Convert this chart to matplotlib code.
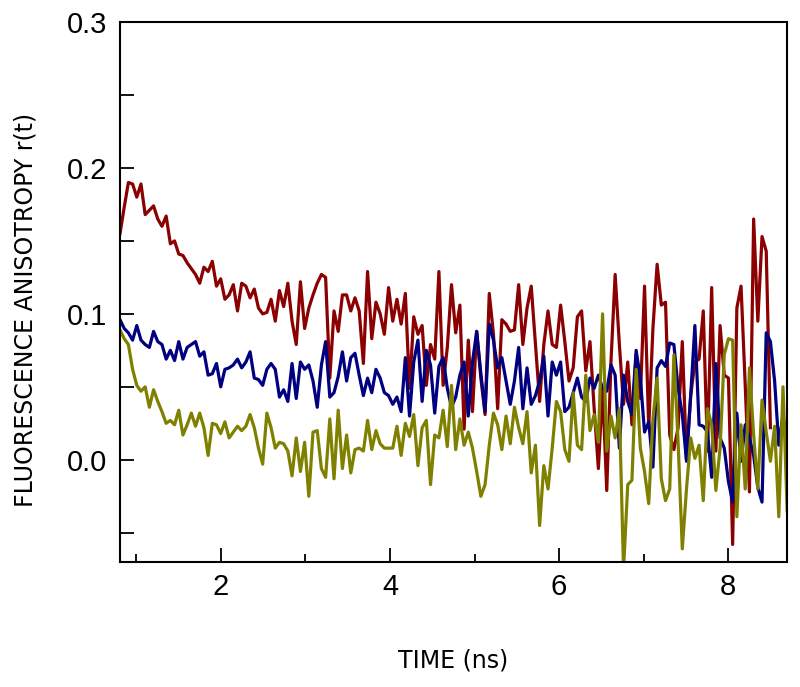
import numpy as np
import matplotlib
matplotlib.use('Agg')
import matplotlib.pyplot as plt
from matplotlib.ticker import MultipleLocator, FormatStrFormatter

# anisotropy decays, one value per channel (~0.05 ns)
red = [0.155, 0.173, 0.190, 0.189, 0.180, 0.189, 0.168, 0.171, 0.174, 0.165, 0.160,
       0.167, 0.148, 0.150, 0.141, 0.140, 0.135, 0.131, 0.127, 0.121, 0.132, 0.129,
       0.136, 0.119, 0.124, 0.110, 0.113, 0.120, 0.102, 0.121, 0.119, 0.111, 0.117,
       0.104, 0.100, 0.101, 0.110, 0.095, 0.116, 0.105, 0.121, 0.095, 0.079, 0.122,
       0.090, 0.104, 0.113, 0.121, 0.127, 0.125, 0.056, 0.102, 0.088, 0.113, 0.113,
       0.102, 0.111, 0.102, 0.066, 0.129, 0.083, 0.108, 0.100, 0.086, 0.118,
       0.095, 0.110, 0.093, 0.114, 0.049, 0.098, 0.086, 0.092, 0.051, 0.079, 0.069,
       0.129, 0.051, 0.077, 0.120, 0.087, 0.106, 0.021, 0.082, 0.033, 0.088, 0.056,
       0.031, 0.114, 0.086, 0.035, 0.096, 0.093, 0.088, 0.089, 0.120, 0.079,
       0.104, 0.119, 0.079, 0.040, 0.079, 0.102, 0.079, 0.077, 0.106, 0.081, 0.054,
       0.063, 0.098, 0.102, 0.061, 0.081, 0.035, -0.006, 0.049, -0.021, 0.067, 0.127,
       0.079, 0.038, 0.067, 0.024, 0.072, 0.042, 0.119, 0.022, 0.090, 0.134,
       0.106, 0.108, 0.017, 0.007, 0.022, 0.081, 0.001, 0.044, 0.067, 0.069, 0.102,
       0.006, 0.118, 0.006, 0.092, 0.058, 0.056, -0.058, 0.104, 0.119, 0.051, -0.022,
       0.165, 0.095, 0.153, 0.143, 0.022]

navy = [0.096, 0.090, 0.087, 0.082, 0.092, 0.082, 0.079, 0.077, 0.088, 0.081, 0.079,
        0.069, 0.075, 0.068, 0.081, 0.069, 0.077, 0.079, 0.081, 0.071, 0.074, 0.058,
        0.059, 0.066, 0.050, 0.062, 0.063, 0.065, 0.069, 0.063, 0.067, 0.074, 0.056,
        0.055, 0.051, 0.062, 0.066, 0.062, 0.043, 0.048, 0.040, 0.066, 0.042, 0.067,
        0.062, 0.065, 0.054, 0.036, 0.065, 0.081, 0.043, 0.046, 0.057, 0.074, 0.054,
        0.070, 0.073, 0.058, 0.044, 0.056, 0.046, 0.062, 0.056, 0.046, 0.044,
        0.038, 0.043, 0.033, 0.070, 0.030, 0.067, 0.082, 0.040, 0.075, 0.065, 0.032,
        0.064, 0.070, 0.049, 0.036, 0.043, 0.058, 0.067, 0.030, 0.067, 0.088, 0.059,
        0.033, 0.093, 0.082, 0.063, 0.070, 0.054, 0.038, 0.054, 0.077, 0.035,
        0.063, 0.038, 0.044, 0.054, 0.071, 0.030, 0.067, 0.058, 0.067, 0.033, 0.036,
        0.046, 0.056, 0.043, 0.040, 0.056, 0.049, 0.058, 0.049, 0.047, 0.065, 0.058,
        0.008, 0.058, 0.040, 0.031, 0.075, 0.056, 0.019, 0.026, -0.005, 0.063,
        0.068, 0.064, 0.080, 0.079, 0.049, 0.031, -0.001, 0.044, 0.092, 0.024, 0.023,
        0.019, -0.012, 0.066, 0.015, 0.008, -0.015, -0.029, 0.032, -0.001, 0.024, 0.015,
        0.003, -0.019, -0.029, 0.087, 0.081, 0.054, 0.010, 0.031, 0.010]

olive = [0.089, 0.083, 0.079, 0.062, 0.051, 0.047, 0.050, 0.036, 0.048, 0.040, 0.033,
         0.025, 0.027, 0.024, 0.034, 0.017, 0.024, 0.032, 0.023, 0.032, 0.022, 0.003,
         0.025, 0.024, 0.018, 0.026, 0.015, 0.019, 0.023, 0.020, 0.023, 0.031, 0.022,
         0.008, -0.003, 0.032, 0.022, 0.008, 0.012, 0.011, 0.006, -0.011, 0.015, -0.008,
         0.012, -0.025, 0.019, 0.020, -0.006, -0.012, 0.028, -0.013, 0.034, -0.006, 0.017,
         -0.009, 0.007, 0.008, 0.006, 0.027, 0.007, 0.020, 0.011, 0.008, 0.008,
         0.008, 0.023, 0.003, 0.025, 0.016, 0.031, -0.004, 0.022, 0.027, -0.017, 0.017,
         0.015, 0.034, 0.009, 0.051, 0.007, 0.028, 0.010, 0.019, 0.008, -0.008, -0.025,
         -0.017, 0.010, 0.032, 0.024, 0.007, 0.030, 0.011, 0.036, 0.022, 0.011,
         0.033, -0.009, 0.010, -0.045, -0.004, -0.020, 0.008, 0.040, 0.033, 0.007, -0.001,
         0.046, 0.010, 0.007, 0.058, 0.020, 0.031, 0.012, 0.100, 0.006, 0.030, 0.015,
         0.035, -0.075, -0.017, -0.014, 0.062, 0.008, -0.008, -0.030, 0.028, 0.056,
         -0.013, -0.028, -0.020, 0.072, 0.012, -0.061, -0.020, 0.015, 0.001, 0.010, -0.028,
         0.035, 0.024, -0.021, 0.008, 0.072, 0.083, 0.082, -0.039, 0.024, -0.020, 0.063,
         0.017, -0.020, 0.041, 0.019, -0.001, 0.023, -0.039, 0.050, -0.035]

t_start, t_end = 0.805, 8.70
time = np.linspace(t_start, t_end, len(navy))

plt.rcParams['font.family'] = ['Liberation Sans', 'DejaVu Sans']

fig = plt.figure(figsize=(8, 6.87), dpi=100)
ax = fig.add_axes([0.15, 0.182, 0.834, 0.786])

lw = 2.3
ax.plot(time[:len(red)], red, color='#8b0000', lw=lw)
ax.plot(time, navy, color='#000080', lw=lw)
ax.plot(time, olive, color='#808000', lw=lw)

ax.set_xlim(t_start, t_end)
ax.set_ylim(-0.07, 0.3)

ax.xaxis.set_major_locator(MultipleLocator(2))
ax.xaxis.set_minor_locator(MultipleLocator(1))
ax.yaxis.set_major_locator(MultipleLocator(0.1))
ax.yaxis.set_minor_locator(MultipleLocator(0.05))
ax.yaxis.set_major_formatter(FormatStrFormatter('%.1f'))

ax.tick_params(axis='both', which='both', direction='in', top=False, right=False,
               width=1.3, labelsize=21)
ax.tick_params(axis='x', which='major', length=10, pad=8)
ax.tick_params(axis='x', which='minor', length=6)
ax.tick_params(axis='y', which='both', length=10, pad=9)

for s in ax.spines.values():
    s.set_linewidth(1.5)

ax.set_xlabel('TIME (ns)', fontsize=17, family='DejaVu Sans', labelpad=34)
ax.set_ylabel('FLUORESCENCE ANISOTROPY r(t)', fontsize=17, family='DejaVu Sans')
ax.yaxis.set_label_coords(-0.123, 0.467)

fig.savefig('out.png', dpi=100)
